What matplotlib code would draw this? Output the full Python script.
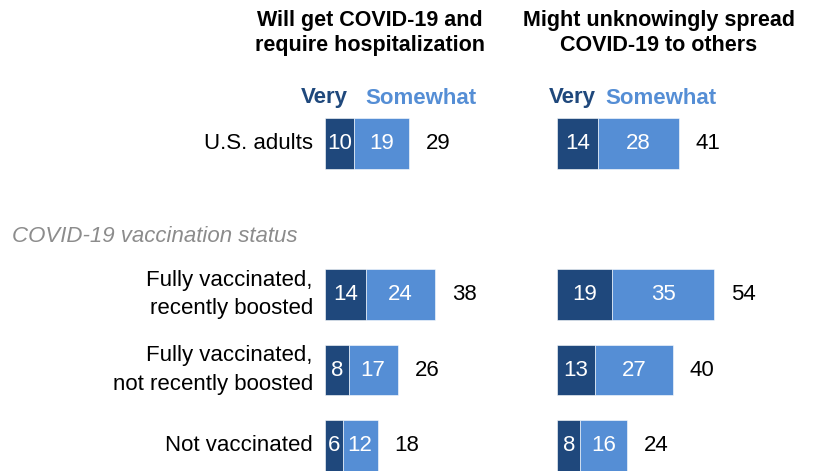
import matplotlib
matplotlib.use("Agg")
import matplotlib.pyplot as plt

# Share of respondents who are very / somewhat concerned
groups = ["U.S. adults", "Fully vaccinated,\nrecently boosted",
          "Fully vaccinated,\nnot recently boosted", "Not vaccinated"]
group_pos = [0, 2, 3, 4]
hosp_very = [10, 14, 8, 6]
hosp_somewhat = [19, 24, 17, 12]
hosp_total = [29, 38, 26, 18]
spread_very = [14, 19, 13, 8]
spread_somewhat = [28, 35, 27, 16]
spread_total = [41, 54, 40, 24]
titles = ["Will get COVID-19 and\nrequire hospitalization",
          "Might unknowingly spread\nCOVID-19 to others"]
section_label = "COVID-19 vaccination status"

DARK = "#1F487C"
LIGHT = "#558ED5"
FONT = "Liberation Sans"

W, H = 823, 471
fig = plt.figure(figsize=(W / 100, H / 100), dpi=100)

px_per_unit = 2.9
row_px = 75.4
top_row_px = 143.8
panel_w_px = 210
xmax = panel_w_px / px_per_unit
ylo = (H - top_row_px) / row_px
yhi = -top_row_px / row_px

panels = [
    (325.3, hosp_very, hosp_somewhat, hosp_total),
    (557.3, spread_very, spread_somewhat, spread_total),
]

axes = []
for left_px, very, some, total in panels:
    ax = fig.add_axes([left_px / W, 0, panel_w_px / W, 1])
    ax.set_xlim(0, xmax)
    ax.set_ylim(ylo, yhi)
    ax.axis("off")
    ax.barh(group_pos, very, height=0.676, color=DARK, edgecolor="white", linewidth=0.4)
    ax.barh(group_pos, some, left=very, height=0.676, color=LIGHT, edgecolor="white", linewidth=0.4)
    for y, v, s, t in zip(group_pos, very, some, total):
        ax.text(v / 2, y, str(v), ha="center", va="center", color="white",
                fontsize=16, family=FONT)
        ax.text(v + s / 2, y, str(s), ha="center", va="center", color="white",
                fontsize=16, family=FONT)
        ax.annotate(str(t), (v + s, y), xytext=(12, 0), textcoords="offset points",
                    ha="left", va="center", color="black", fontsize=16, family=FONT)
    axes.append(ax)

# Row labels, right-aligned to the left of the first panel
for y, g in zip(group_pos, groups):
    axes[0].annotate(g, (0, y), xytext=(-9, 0), textcoords="offset points",
                     ha="right", va="center", fontsize=16, family=FONT,
                     linespacing=1.45)

fig.text(12 / W, 1 - 236 / H, section_label, ha="left", va="center",
         fontsize=16, style="italic", color="#8C8C8C", family=FONT)

# Column titles
fig.text(370 / W, 1 - 33 / H, titles[0], ha="center", va="center",
         fontsize=15.5, weight="bold", family=FONT, linespacing=1.25)
fig.text(659 / W, 1 - 33 / H, titles[1], ha="center", va="center",
         fontsize=15.5, weight="bold", family=FONT, linespacing=1.25)

# Series headers
for x_very, x_some in [(348, 365), (596, 605)]:
    fig.text(x_very / W, 1 - 98 / H, "Very", ha="right", va="center",
             fontsize=16, weight="bold", color=DARK, family=FONT)
    fig.text(x_some / W, 1 - 98 / H, "Somewhat", ha="left", va="center",
             fontsize=16, weight="bold", color=LIGHT, family=FONT)

fig.savefig("out.png", dpi=100)
